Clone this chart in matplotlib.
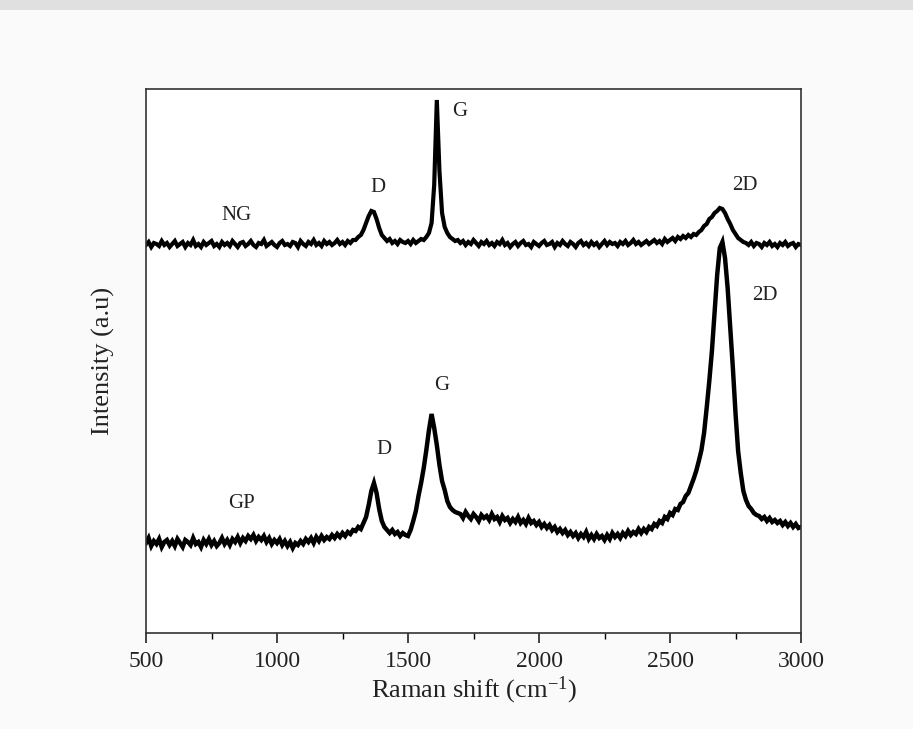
import numpy as np
import matplotlib
matplotlib.use("Agg")
import matplotlib.pyplot as plt
from matplotlib.patches import Rectangle
from matplotlib.ticker import MultipleLocator

# Raman shift axis (cm^-1), sampled every 10 cm^-1
shift = np.arange(500, 3001, 10)

# NG spectrum (arbitrary intensity units, offset trace on top)
ng = [
    388, 391, 386, 390, 389, 387, 392, 388, 390, 386,
    389, 392, 387, 389, 391, 386, 390, 388, 393, 387,
    389, 386, 391, 388, 390, 392, 387, 389, 386, 391,
    388, 390, 387, 392, 389, 386, 390, 391, 387, 389,
    392, 388, 386, 390, 389, 393, 387, 389, 391, 388,
    386, 390, 392, 388, 389, 387, 391, 390, 386, 392,
    389, 387, 391, 389, 393, 388, 390, 387, 392, 389,
    391, 388, 390, 393, 389, 391, 388, 392, 390, 393,
    393, 396, 398, 403, 410, 417, 422, 421, 414, 405,
    398, 395, 392, 394, 390, 392, 389, 393, 391, 390,
    392, 389, 393, 390, 392, 394, 393, 396, 400, 410,
    448, 533, 462, 420, 406, 400, 396, 394, 392, 393,
    390, 392, 388, 391, 389, 393, 390, 387, 391, 389,
    392, 388, 390, 387, 391, 389, 393, 388, 390, 386,
    389, 391, 387, 390, 392, 388, 389, 386, 391, 389,
    387, 390, 392, 388, 389, 391, 386, 390, 388, 392,
    389, 387, 391, 389, 386, 390, 392, 388, 390, 387,
    391, 388, 390, 386, 389, 392, 388, 391, 389, 390,
    387, 391, 389, 392, 388, 390, 393, 389, 391, 388,
    390, 392, 389, 391, 393, 390, 392, 389, 394, 391,
    393, 395, 392, 396, 394, 397, 395, 398, 396, 399,
    398, 401, 403, 407, 409, 414, 416, 420, 422, 425,
    424, 420, 414, 409, 403, 399, 395, 393, 391, 390,
    388, 391, 387, 390, 389, 386, 390, 388, 391, 387,
    389, 386, 390, 388, 391, 387, 389, 390, 386, 389,
    388,
]

# GP spectrum (lower trace)
gp = [
    90, 95, 87, 92, 89, 94, 86, 91, 93, 88,
    92, 87, 94, 90, 86, 93, 91, 88, 95, 89,
    91, 86, 93, 89, 94, 88, 92, 87, 90, 95,
    89, 93, 88, 94, 91, 96, 90, 95, 92, 97,
    94, 98, 92, 96, 93, 97, 91, 95, 89, 93,
    90, 94, 88, 92, 87, 91, 85, 90, 88, 92,
    89, 94, 91, 95, 90, 96, 92, 97, 93, 96,
    94, 98, 95, 99, 96, 100, 97, 101, 99, 103,
    102, 106, 104, 110, 116, 128, 142, 150, 140, 124,
    112, 106, 103, 100, 103, 99, 101, 97, 100, 98,
    97, 103, 112, 122, 137, 150, 165, 183, 203, 219,
    205, 188, 168, 152, 143, 132, 126, 123, 121, 120,
    119, 115, 121, 117, 114, 119, 116, 112, 118, 115,
    117, 113, 119, 114, 116, 111, 117, 113, 115, 110,
    114, 111, 116, 110, 113, 109, 115, 110, 112, 108,
    111, 106, 109, 105, 108, 103, 106, 101, 104, 100,
    103, 98, 101, 97, 100, 95, 99, 96, 101, 94,
    98, 94, 99, 95, 97, 93, 98, 94, 100, 96,
    99, 95, 100, 97, 102, 98, 101, 99, 104, 100,
    104, 101, 106, 104, 109, 107, 112, 110, 116, 114,
    120, 118, 124, 123, 129, 131, 137, 140, 147, 154,
    162, 172, 183, 200, 225, 252, 282, 320, 358, 385,
    391, 375, 345, 305, 265, 220, 182, 160, 142, 133,
    127, 124, 120, 118, 117, 114, 116, 112, 115, 111,
    113, 110, 112, 108, 111, 107, 110, 106, 109, 105,
    106,
]

# Peak / sample annotations
label_text = ["NG", "D", "G", "2D", "GP", "D", "G", "2D"]
label_x = [847, 1385, 1698, 2786, 866, 1408, 1630, 2863]
label_y = [418, 446, 521, 448, 130, 183, 248, 338]

xticks = [500, 1000, 1500, 2000, 2500, 3000]

plt.rcParams['font.family'] = ['Liberation Serif', 'DejaVu Serif']
plt.rcParams['mathtext.fontset'] = 'custom'
plt.rcParams['mathtext.rm'] = 'Liberation Serif'
plt.rcParams['mathtext.it'] = 'Liberation Serif:italic'
plt.rcParams['mathtext.bf'] = 'Liberation Serif:bold'

fig = plt.figure(figsize=(9.13, 7.29), dpi=100, facecolor='#fafafa')
fig.patches.append(Rectangle((0, 0.986), 1, 0.014, transform=fig.transFigure,
                             facecolor='#e0e0e0', edgecolor='none', zorder=0))
ax = fig.add_axes([146/913, 1-633/729, (801-146)/913, (633-89)/729])
ax.set_facecolor('white')

ax.plot(shift, ng, color='black', linewidth=3.0, solid_joinstyle='miter')
ax.plot(shift, gp, color='black', linewidth=3.2, solid_joinstyle='miter')

for t, x, y in zip(label_text, label_x, label_y):
    ax.text(x, y, t, fontsize=15, ha='center', va='center', color='#222222')

ax.set_xlim(500, 3000)
ax.set_ylim(0, 544)
ax.set_xticks(xticks)
ax.xaxis.set_minor_locator(MultipleLocator(250))
ax.set_yticks([])
ax.tick_params(axis='x', which='major', direction='out', length=7, width=1.2,
               labelsize=17, pad=6, colors='#222222')
ax.tick_params(axis='x', which='minor', direction='out', length=4, width=1.0)
for s in ax.spines.values():
    s.set_linewidth(1.2)
    s.set_color('#333333')

ax.set_xlabel('Raman shift (cm$^{\\mathrm{-1}}$)', fontsize=19, labelpad=2,
              color='#222222')
ax.set_ylabel('Intensity (a.u)', fontsize=19, labelpad=22, color='#222222')

fig.savefig('out.png', dpi=100, facecolor=fig.get_facecolor())
